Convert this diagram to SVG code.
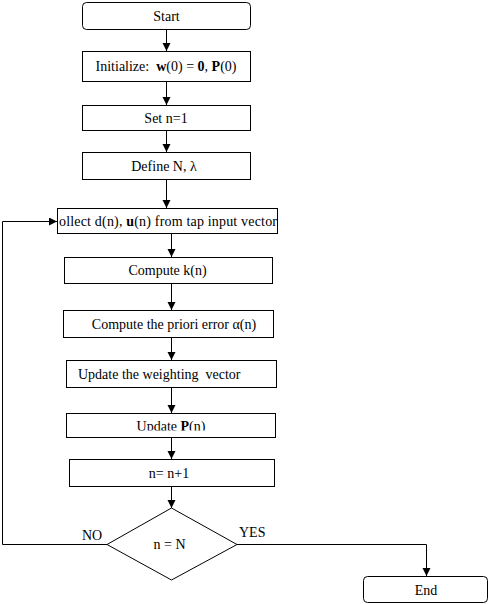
<svg xmlns="http://www.w3.org/2000/svg" width="490" height="604" viewBox="0 0 490 604">
<style>
.box{fill:#fff;stroke:#000;stroke-width:1}
.t{font-family:"Liberation Serif","Times New Roman",serif;font-size:14px;fill:#000}
.c{text-anchor:middle}
.b{font-weight:bold}
.ln{fill:none;stroke:#000;stroke-width:1}
</style>
<defs>
<marker id="ah" markerUnits="userSpaceOnUse" markerWidth="8" markerHeight="10" refX="8" refY="4" orient="auto">
<path d="M0,0 L8,4 L0,8 Z" fill="#000"/>
</marker>
<clipPath id="clipCollect"><rect x="58" y="208" width="219.5" height="25"/></clipPath>
<clipPath id="clipP"><rect x="66" y="413" width="209" height="17.5"/></clipPath>
</defs>
<rect width="490" height="604" fill="#fff"/>
<g id="connectors">
<path class="ln" d="M166.5,29 V51" marker-end="url(#ah)"/>
<path class="ln" d="M166.5,81 V105" marker-end="url(#ah)"/>
<path class="ln" d="M166.5,130 V152" marker-end="url(#ah)"/>
<path class="ln" d="M166.5,179 V208" marker-end="url(#ah)"/>
<path class="ln" d="M171.5,233 V257" marker-end="url(#ah)"/>
<path class="ln" d="M171.5,283 V310" marker-end="url(#ah)"/>
<path class="ln" d="M171.5,337 V360" marker-end="url(#ah)"/>
<path class="ln" d="M171.5,387 V413" marker-end="url(#ah)"/>
<path class="ln" d="M171.5,437 V459" marker-end="url(#ah)"/>
<path class="ln" d="M171.5,486 V508" marker-end="url(#ah)"/>
<path class="ln" d="M107,544.5 H2.5 V221.5 H57" marker-end="url(#ah)"/>
<path class="ln" d="M237,544.5 H426.5 V576" marker-end="url(#ah)"/>
</g>
<g id="start">
<rect class="box" x="82.5" y="2.5" width="168" height="27" rx="4"/>
<text class="t c" x="166.5" y="20.5">Start</text>
</g>
<g id="init">
<rect class="box" x="82.5" y="51.5" width="168" height="30"/>
<text class="t c" x="166" y="71" xml:space="preserve">Initialize:  <tspan class="b">w</tspan>(0) = <tspan class="b">0</tspan>, <tspan class="b">P</tspan>(0)</text>
</g>
<g id="setn">
<rect class="box" x="82.5" y="105.5" width="168" height="25"/>
<text class="t c" x="166" y="122.5">Set n=1</text>
</g>
<g id="define">
<rect class="box" x="82.5" y="152.5" width="168" height="27"/>
<text class="t c" x="164" y="170.5">Define N, λ</text>
</g>
<g id="collect">
<rect class="box" x="57.5" y="208.5" width="220" height="25"/>
<text class="t" x="59" y="225.5" textLength="218" clip-path="url(#clipCollect)">ollect d(n), <tspan class="b">u</tspan>(n) from tap input vector</text>
</g>
<g id="computek">
<rect class="box" x="64.5" y="257.5" width="208" height="26"/>
<text class="t c" x="167.5" y="275">Compute k(n)</text>
</g>
<g id="priori">
<rect class="box" x="63.5" y="310.5" width="210" height="27"/>
<text class="t c" x="174" y="328.5">Compute the priori error α(n)</text>
</g>
<g id="weighting">
<rect class="box" x="66.5" y="360.5" width="210" height="27"/>
<text class="t" x="78" y="378.5" xml:space="preserve">Update the weighting  vector</text>
</g>
<g id="updatep">
<rect class="box" x="66.5" y="413.5" width="209" height="24"/>
<text class="t c" x="171" y="430.5" clip-path="url(#clipP)">Update <tspan class="b">P</tspan>(n)</text>
</g>
<g id="increment">
<rect class="box" x="69.5" y="459.5" width="205" height="27"/>
<text class="t c" x="169" y="477.5">n= n+1</text>
</g>
<g id="decision">
<polygon class="box" points="171.5,508 237,544.5 171.5,580 107,544.5"/>
<text class="t c" x="169.5" y="549">n = N</text>
<text class="t" x="82" y="539.5">NO</text>
<text class="t" x="239" y="536.5">YES</text>
</g>
<g id="end">
<rect class="box" x="363.5" y="576.5" width="124" height="26" rx="4"/>
<text class="t c" x="426" y="594.5">End</text>
</g>
</svg>
